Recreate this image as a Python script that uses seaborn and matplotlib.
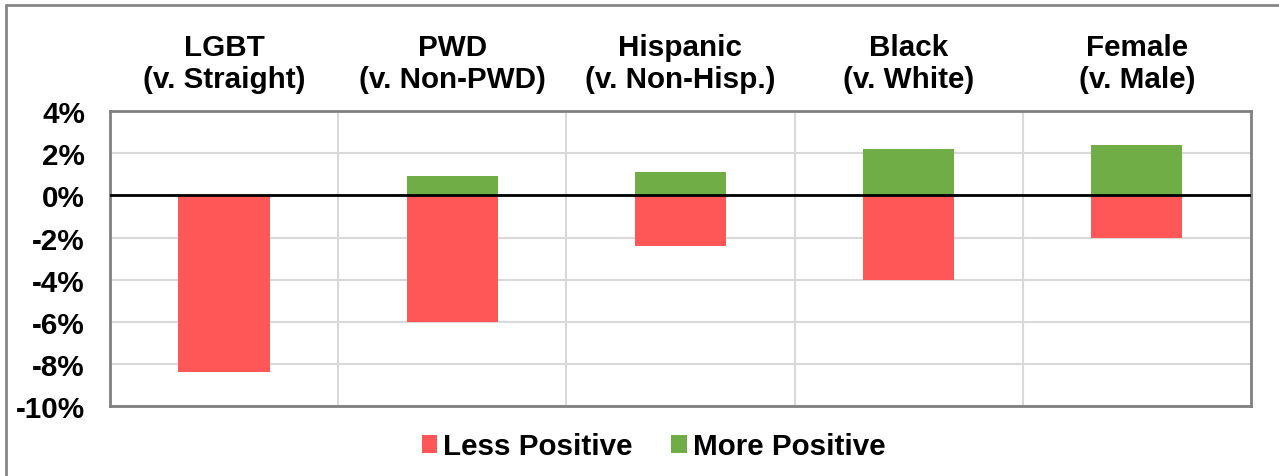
import matplotlib
matplotlib.use("Agg")
import matplotlib.pyplot as plt
from matplotlib.patches import Patch
from matplotlib.ticker import FixedLocator, PercentFormatter
import pandas as pd
import seaborn as sns

categories = [
    "LGBT\n(v. Straight)",
    "PWD\n(v. Non-PWD)",
    "Hispanic\n(v. Non-Hisp.)",
    "Black\n(v. White)",
    "Female\n(v. Male)",
]
less_positive = [-8.4, -6.0, -2.4, -4.0, -2.0]
more_positive = [0.0, 0.9, 1.1, 2.2, 2.4]
series_names = ["Less Positive", "More Positive"]
series_colors = ["#FF5757", "#70AD47"]
y_ticks = [4, 2, 0, -2, -4, -6, -8, -10]

df = pd.DataFrame({
    "group": categories * 2,
    "series": [series_names[0]] * len(categories) + [series_names[1]] * len(categories),
    "value": less_positive + more_positive,
})

sns.set_theme(style="white")
plt.rcParams["font.family"] = ["Liberation Sans", "DejaVu Sans"]
plt.rcParams["font.weight"] = "bold"
plt.rcParams["axes.unicode_minus"] = False
plt.rcParams["text.color"] = "black"
plt.rcParams["xtick.color"] = "black"
plt.rcParams["ytick.color"] = "black"

FS = 21.3

fig = plt.figure(figsize=(12.79, 4.77), dpi=100)
ax = fig.add_axes([0.086, 0.1468, 0.892, 0.618])

sns.barplot(
    data=df, x="group", y="value", hue="series", order=categories,
    hue_order=series_names, palette=series_colors, dodge=False,
    width=0.4, legend=False, ax=ax, saturation=1, linewidth=0,
)

ax.set_ylim(-10, 4)
ax.set_xlim(-0.5, len(categories) - 0.5)
ax.yaxis.set_major_locator(FixedLocator(y_ticks))
ax.yaxis.set_major_formatter(PercentFormatter(decimals=0))
ax.xaxis.set_minor_locator(FixedLocator([i + 0.5 for i in range(len(categories) - 1)]))

ax.grid(axis="y", which="major", color="#D9D9D9", linewidth=1.5)
ax.grid(axis="x", which="minor", color="#D9D9D9", linewidth=1.5)
ax.grid(axis="x", which="major", visible=False)
ax.set_axisbelow(True)
ax.axhline(0, color="black", linewidth=2, zorder=3)

for side in ["left", "right", "top", "bottom"]:
    ax.spines[side].set_visible(True)
    ax.spines[side].set_color("#808080")
    ax.spines[side].set_linewidth(2)

ax.xaxis.tick_top()
ax.tick_params(axis="x", which="both", length=0, pad=13, labelsize=FS, labelcolor="black")
ax.tick_params(axis="y", length=0, pad=18, labelsize=FS, labelcolor="black")
for lbl in ax.get_xticklabels():
    lbl.set_fontweight("bold")
    lbl.set_linespacing(1.2)
for lbl in ax.get_yticklabels():
    lbl.set_fontweight("bold")
ax.set_xlabel("")
ax.set_ylabel("")

handles = [Patch(facecolor=c, edgecolor="none", label=n) for n, c in zip(series_names, series_colors)]
fig.legend(
    handles=handles, loc="center", bbox_to_anchor=(0.511, 0.062), ncol=2,
    frameon=False, prop={"size": FS, "weight": "bold"},
    handlelength=0.52, handleheight=0.52, handletextpad=0.2, columnspacing=1.3,
)

# figure frame along the left and top edges
fig.add_artist(plt.Line2D([0.0047, 0.0047], [0, 0.987], transform=fig.transFigure, color="#868686", linewidth=2))
fig.add_artist(plt.Line2D([0.0047, 1.0], [0.987, 0.987], transform=fig.transFigure, color="#868686", linewidth=2))

fig.savefig("out.png", dpi=100)
